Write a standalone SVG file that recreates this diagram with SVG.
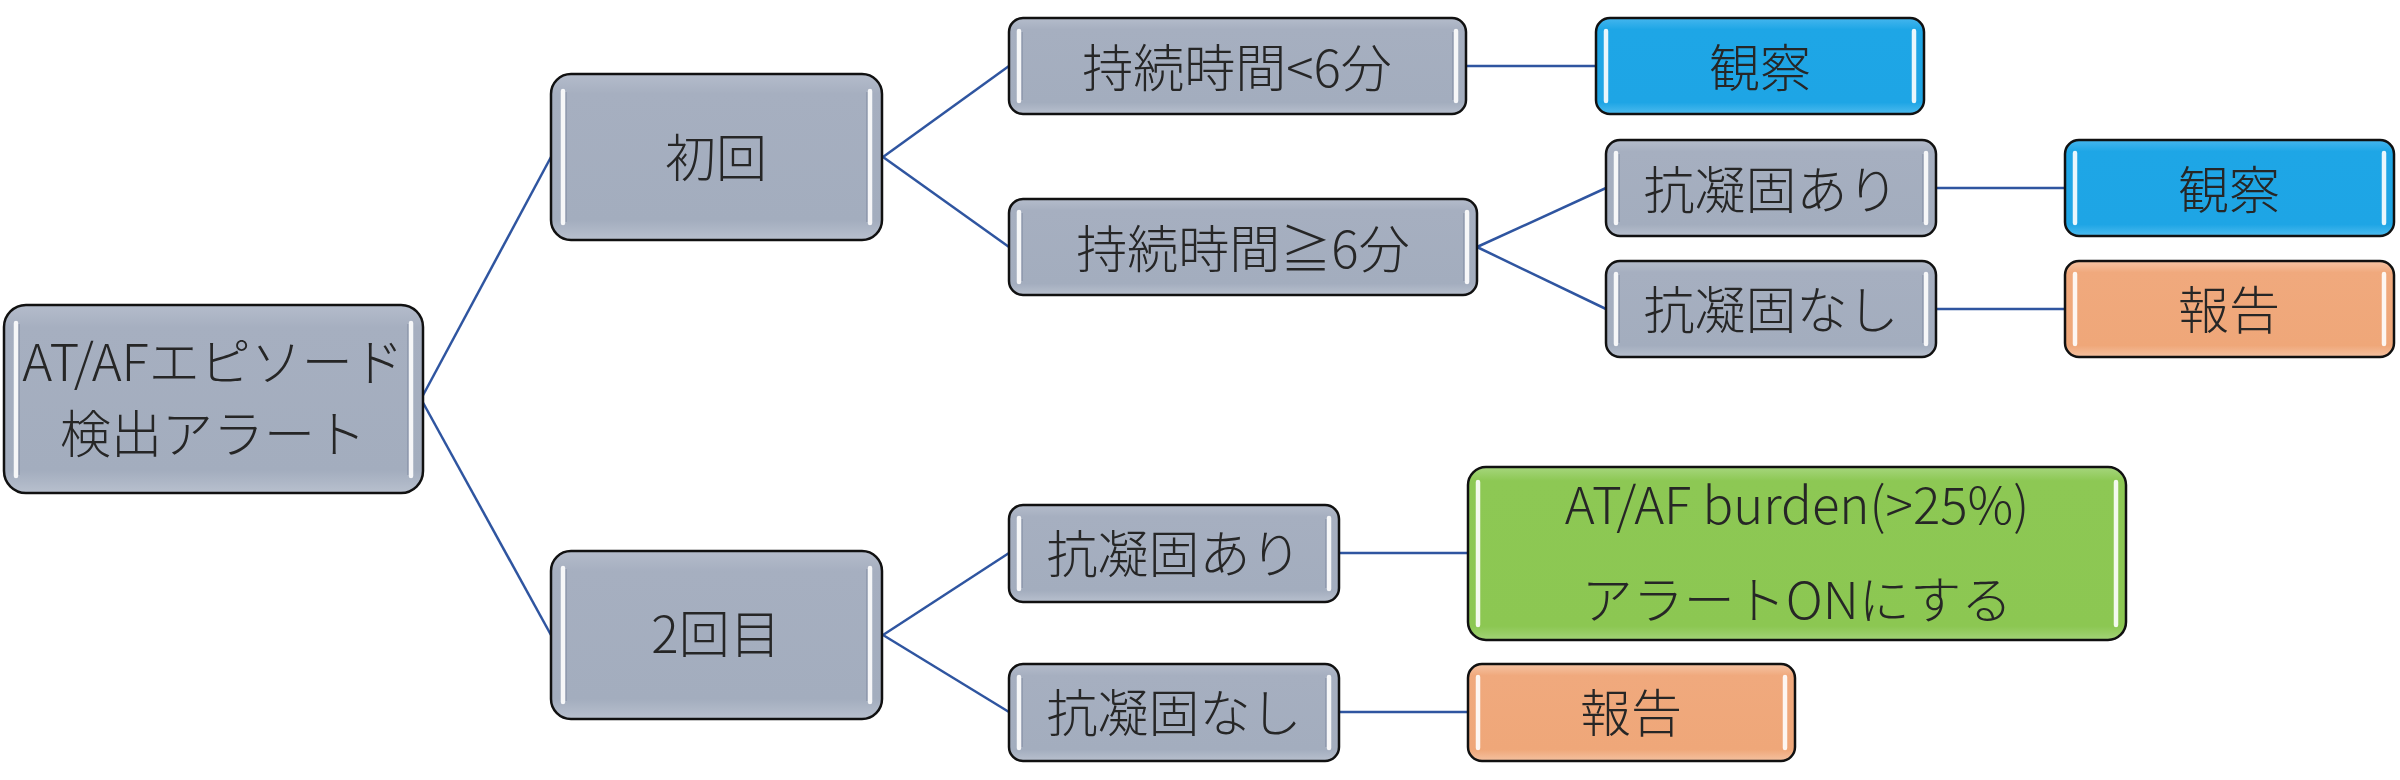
<svg xmlns="http://www.w3.org/2000/svg" width="2400" height="780" viewBox="0 0 2400 780">
<defs>
<linearGradient id="gGray" x1="0" y1="0" x2="0" y2="1">
<stop offset="0" stop-color="#B4BCCB"/><stop offset="0.12" stop-color="#A6AFC0"/><stop offset="0.88" stop-color="#A3ADBE"/><stop offset="1" stop-color="#B8C0CE"/>
</linearGradient>
<linearGradient id="gBlue" x1="0" y1="0" x2="0" y2="1">
<stop offset="0" stop-color="#45B6EE"/><stop offset="0.12" stop-color="#1EA6E6"/><stop offset="0.88" stop-color="#1EA5E5"/><stop offset="1" stop-color="#4DBBEE"/>
</linearGradient>
<linearGradient id="gOrange" x1="0" y1="0" x2="0" y2="1">
<stop offset="0" stop-color="#F6C4A4"/><stop offset="0.12" stop-color="#F0A97D"/><stop offset="0.88" stop-color="#EFA779"/><stop offset="1" stop-color="#F5C1A0"/>
</linearGradient>
<linearGradient id="gGreen" x1="0" y1="0" x2="0" y2="1">
<stop offset="0" stop-color="#A6D67D"/><stop offset="0.08" stop-color="#8DC854"/><stop offset="0.92" stop-color="#8CC752"/><stop offset="1" stop-color="#A3D478"/>
</linearGradient>
</defs>
<style>
.box{stroke:#111;stroke-width:2.5}
.gray{fill:url(#gGray)}
.blue{fill:url(#gBlue)}
.orange{fill:url(#gOrange)}
.green{fill:url(#gGreen)}
.hl{stroke:#FFFFFF;stroke-width:4.5;stroke-linecap:round;opacity:0.9}
.hs{stroke:#6C7890;stroke-width:1.5;opacity:0.45}
.t{font-family:"Noto Sans CJK JP","Noto Sans",sans-serif;font-size:51px;font-weight:300;fill:#262626;text-anchor:middle;dominant-baseline:central}
.conn{stroke:#2F55A0;stroke-width:2.5;fill:none}
</style>
<g id="connectors">
<line class="conn" x1="421" y1="399" x2="551" y2="157"/>
<line class="conn" x1="421" y1="399" x2="551" y2="635"/>
<line class="conn" x1="883" y1="157" x2="1009" y2="66"/>
<line class="conn" x1="883" y1="157" x2="1009" y2="247"/>
<line class="conn" x1="1466" y1="66" x2="1596" y2="66"/>
<line class="conn" x1="1477" y1="247" x2="1606" y2="188"/>
<line class="conn" x1="1477" y1="247" x2="1606" y2="309"/>
<line class="conn" x1="1936" y1="188" x2="2065" y2="188"/>
<line class="conn" x1="1936" y1="309" x2="2065" y2="309"/>
<line class="conn" x1="883" y1="635" x2="1009" y2="553"/>
<line class="conn" x1="883" y1="635" x2="1009" y2="712"/>
<line class="conn" x1="1339" y1="553" x2="1468" y2="553"/>
<line class="conn" x1="1339" y1="712" x2="1468" y2="712"/>
</g>
<g id="root">
<rect class="box gray" x="4" y="305" width="419" height="188" rx="22"/>
<line class="hs" x1="19" y1="324" x2="19" y2="475"/><line class="hl" x1="16" y1="323" x2="16" y2="476"/>
<line class="hs" x1="408" y1="324" x2="408" y2="475"/><line class="hl" x1="411" y1="323" x2="411" y2="476"/>
<text class="t" x="213" y="359">AT/AFエピソード</text>
<text class="t" x="213" y="431">検出アラート</text>
</g>
<g id="first">
<rect class="box gray" x="551" y="74" width="331" height="166" rx="20"/>
<line class="hs" x1="566" y1="92" x2="566" y2="222"/><line class="hl" x1="563" y1="91" x2="563" y2="223"/>
<line class="hs" x1="867" y1="92" x2="867" y2="222"/><line class="hl" x1="870" y1="91" x2="870" y2="223"/>
<text class="t" x="716" y="155">初回</text>
</g>
<g id="second">
<rect class="box gray" x="551" y="551" width="331" height="168" rx="20"/>
<line class="hs" x1="566" y1="569" x2="566" y2="701"/><line class="hl" x1="563" y1="568" x2="563" y2="702"/>
<line class="hs" x1="867" y1="569" x2="867" y2="701"/><line class="hl" x1="870" y1="568" x2="870" y2="702"/>
<text class="t" x="716" y="631">2回目</text>
</g>
<g id="dur-lt6">
<rect class="box gray" x="1009" y="18" width="457" height="96" rx="14"/>
<line class="hs" x1="1022" y1="32" x2="1022" y2="100"/><line class="hl" x1="1019" y1="31" x2="1019" y2="101"/>
<line class="hs" x1="1453" y1="32" x2="1453" y2="100"/><line class="hl" x1="1456" y1="31" x2="1456" y2="101"/>
<text class="t" x="1237" y="65">持続時間&lt;6分</text>
</g>
<g id="observe1">
<rect class="box blue" x="1596" y="18" width="328" height="96" rx="14"/>
<line class="hl" x1="1606" y1="31" x2="1606" y2="101"/>
<line class="hl" x1="1914" y1="31" x2="1914" y2="101"/>
<text class="t" x="1760" y="65">観察</text>
</g>
<g id="dur-ge6">
<rect class="box gray" x="1009" y="199" width="468" height="96" rx="14"/>
<line class="hs" x1="1022" y1="213" x2="1022" y2="281"/><line class="hl" x1="1019" y1="212" x2="1019" y2="282"/>
<line class="hs" x1="1464" y1="213" x2="1464" y2="281"/><line class="hl" x1="1467" y1="212" x2="1467" y2="282"/>
<text class="t" x="1243" y="246">持続時間≧6分</text>
</g>
<g id="anti-yes-1">
<rect class="box gray" x="1606" y="140" width="330" height="96" rx="14"/>
<line class="hs" x1="1619" y1="154" x2="1619" y2="222"/><line class="hl" x1="1616" y1="153" x2="1616" y2="223"/>
<line class="hs" x1="1923" y1="154" x2="1923" y2="222"/><line class="hl" x1="1926" y1="153" x2="1926" y2="223"/>
<text class="t" x="1771" y="187">抗凝固あり</text>
</g>
<g id="observe2">
<rect class="box blue" x="2065" y="140" width="329" height="96" rx="14"/>
<line class="hl" x1="2075" y1="153" x2="2075" y2="223"/>
<line class="hl" x1="2384" y1="153" x2="2384" y2="223"/>
<text class="t" x="2229" y="187">観察</text>
</g>
<g id="anti-no-1">
<rect class="box gray" x="1606" y="261" width="330" height="96" rx="14"/>
<line class="hs" x1="1619" y1="275" x2="1619" y2="343"/><line class="hl" x1="1616" y1="274" x2="1616" y2="344"/>
<line class="hs" x1="1923" y1="275" x2="1923" y2="343"/><line class="hl" x1="1926" y1="274" x2="1926" y2="344"/>
<text class="t" x="1771" y="307">抗凝固なし</text>
</g>
<g id="report1">
<rect class="box orange" x="2065" y="261" width="329" height="96" rx="14"/>
<line class="hl" x1="2075" y1="274" x2="2075" y2="344"/>
<line class="hl" x1="2384" y1="274" x2="2384" y2="344"/>
<text class="t" x="2229" y="307">報告</text>
</g>
<g id="anti-yes-2">
<rect class="box gray" x="1009" y="505" width="330" height="97" rx="14"/>
<line class="hs" x1="1022" y1="519" x2="1022" y2="588"/><line class="hl" x1="1019" y1="518" x2="1019" y2="589"/>
<line class="hs" x1="1326" y1="519" x2="1326" y2="588"/><line class="hl" x1="1329" y1="518" x2="1329" y2="589"/>
<text class="t" x="1174" y="551">抗凝固あり</text>
</g>
<g id="burden">
<rect class="box green" x="1468" y="467" width="658" height="173" rx="18"/>
<line class="hl" x1="1478" y1="482" x2="1478" y2="625"/>
<line class="hl" x1="2116" y1="482" x2="2116" y2="625"/>
<text class="t" x="1797" y="502">AT/AF burden(&gt;25%)</text>
<text class="t" x="1797" y="597">アラートONにする</text>
</g>
<g id="anti-no-2">
<rect class="box gray" x="1009" y="664" width="330" height="97" rx="14"/>
<line class="hs" x1="1022" y1="678" x2="1022" y2="747"/><line class="hl" x1="1019" y1="677" x2="1019" y2="748"/>
<line class="hs" x1="1326" y1="678" x2="1326" y2="747"/><line class="hl" x1="1329" y1="677" x2="1329" y2="748"/>
<text class="t" x="1174" y="710">抗凝固なし</text>
</g>
<g id="report2">
<rect class="box orange" x="1468" y="664" width="327" height="97" rx="14"/>
<line class="hl" x1="1478" y1="677" x2="1478" y2="748"/>
<line class="hl" x1="1785" y1="677" x2="1785" y2="748"/>
<text class="t" x="1631" y="710">報告</text>
</g>
</svg>
